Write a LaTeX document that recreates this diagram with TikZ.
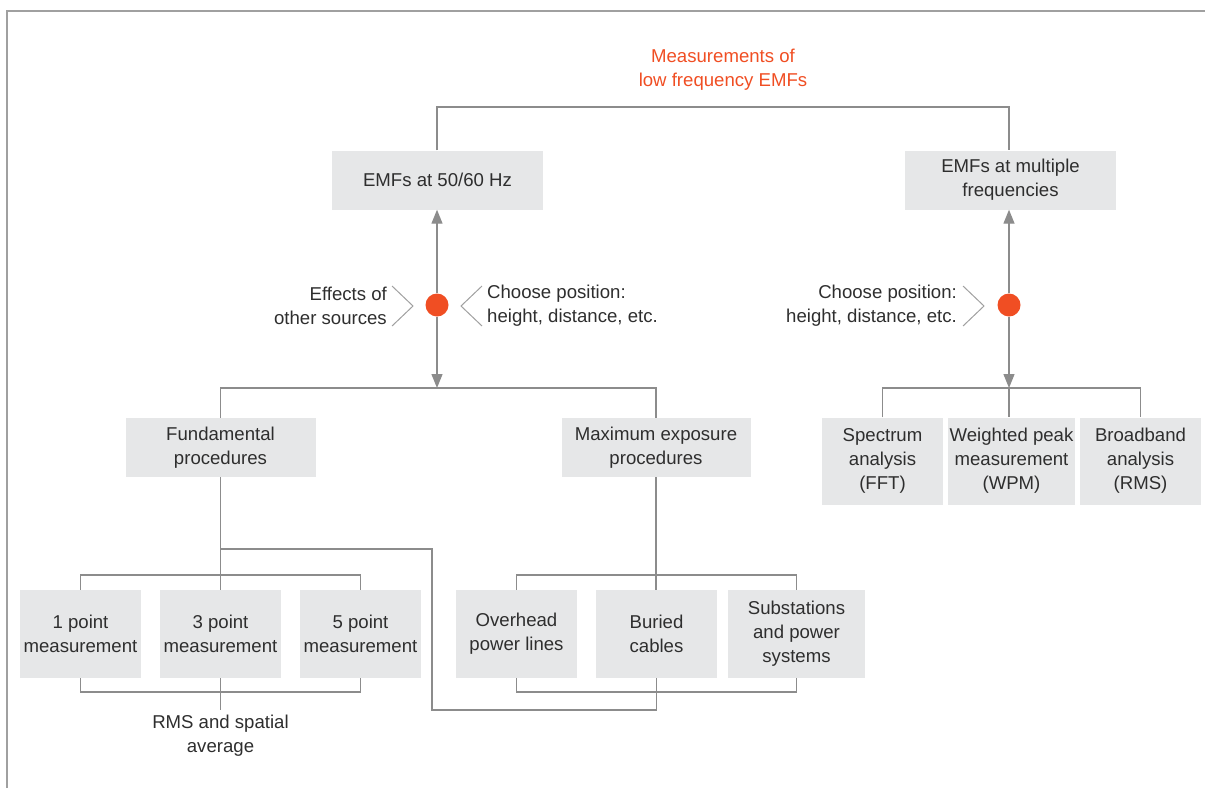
\documentclass[tikz,border=0pt]{standalone}
\usepackage{fontspec}
\setmainfont{Liberation Sans}
\usetikzlibrary{positioning,calc,arrows.meta}
\definecolor{boxgray}{HTML}{E6E7E8}
\definecolor{linegray}{HTML}{8C8C8C}
\definecolor{framegray}{HTML}{A0A0A0}
\definecolor{emforange}{HTML}{F04E23}
\definecolor{textgray}{HTML}{2E2E2E}
\begin{document}
\begin{tikzpicture}[x=1pt, y=-1pt,
every node/.style={font=\fontsize{18.6}{24}\selectfont, text=textgray, align=center},
box/.style={fill=boxgray, inner sep=0pt, minimum height=59pt},
wire/.style={draw=linegray, line width=1.3pt},
arr/.style={wire, -{Triangle[length=14pt, width=11pt]}},
chev/.style={draw=framegray, line width=1pt},
dot/.style={circle, fill=emforange, inner sep=0pt, minimum size=23pt}]

\useasboundingbox (0,0) rectangle (1205,788);
\draw[draw=framegray, line width=1.5pt] (7,788) -- (7,11) -- (1205,11);

\node[text=emforange] (title) at (723,70) {Measurements of\\low frequency EMFs};

\node[box, minimum width=211pt] (emf50) at (437.5,180) {EMFs at 50/60 Hz};
\node[box, minimum width=211pt] (emfmulti) at (1010.5,180) {EMFs at multiple\\frequencies};

\node[dot] (dot50) at (437,305) {};
\node[dot] (dotmulti) at (1009,305) {};
\node[anchor=east, align=right, inner sep=0pt] (effects) at (387,306) {Effects of\\other sources};
\node[anchor=west, align=left, inner sep=0pt] (choose50) at (487,306) {Choose position:\\height, distance, etc.};
\node[anchor=east, align=right, inner sep=0pt] (choosemulti) at (957,306) {Choose position:\\height, distance, etc.};

\node[box, minimum width=190pt] (fund) at (220.5,447.5) {Fundamental\\procedures};
\node[box, minimum width=189pt] (maxexp) at (656,447.5) {Maximum exposure\\procedures};

\node[box, minimum width=121pt, minimum height=87pt] (fft) at (882.5,461) {Spectrum\\analysis\\(FFT)};
\node[box, minimum width=127pt, minimum height=87pt] (wpm) at (1011.5,461) {Weighted peak\\measurement\\(WPM)};
\node[box, minimum width=121pt, minimum height=87pt] (rms) at (1140.5,461) {Broadband\\analysis\\(RMS)};

\node[box, minimum width=121pt, minimum height=88pt] (p1) at (80.5,634) {1 point\\measurement};
\node[box, minimum width=121pt, minimum height=88pt] (p3) at (220.5,634) {3 point\\measurement};
\node[box, minimum width=121pt, minimum height=88pt] (p5) at (360.5,634) {5 point\\measurement};
\node[anchor=north, inner sep=5pt] (rmsavg) at (220.5,710) {RMS and spatial\\average};

\node[box, minimum width=121pt, minimum height=88pt] (ovh) at (516.5,634) {Overhead\\power lines};
\node[box, minimum width=121pt, minimum height=88pt] (bur) at (656.5,634) {Buried\\cables};
\node[box, minimum width=137pt, minimum height=88pt] (sub) at (796.5,634) {Substations\\and power\\systems};

\coordinate (topbar) at (723,107);
\coordinate (fundbar) at (437,388);
\coordinate (multibar) at (1009,388);
\coordinate (pbar) at (220.5,575);
\coordinate (pbot) at (220.5,692);
\coordinate (obar) at (656.5,575);
\coordinate (obot) at (656.5,692);
\coordinate (fork) at (220.5,549);
\coordinate (loop) at (432,710);

\draw[wire] (dot50 |- emf50.north) |- (topbar) -| (dotmulti |- emfmulti.north);

\draw[arr] (dot50) -- (dot50 |- emf50.south);
\draw[arr] (dot50) -- (fundbar);
\draw[arr] (dotmulti) -- (dotmulti |- emfmulti.south);
\draw[arr] (dotmulti) -- (multibar);

\draw[chev] ($(dot50)+(-45,-19)$) -- ($(dot50)+(-24,1)$) -- ($(dot50)+(-45,21)$);
\draw[chev] ($(dot50)+(45,-19)$) -- ($(dot50)+(24,1)$) -- ($(dot50)+(45,21)$);
\draw[chev] ($(dotmulti)+(-46,-19)$) -- ($(dotmulti)+(-25,1)$) -- ($(dotmulti)+(-46,21)$);

\draw[wire] (fund.north) |- (fundbar) -| (maxexp.north);
\draw[wire] (fft.north) |- (multibar) -| (rms.north);
\draw[wire] (multibar) -- (multibar |- wpm.north);

\draw[wire] (fund.south) -- (p3.north);
\draw[wire] (p1.north) |- (pbar) -| (p5.north);
\draw[wire] (p1.south) |- (pbot) -| (p5.south);
\draw[wire] (p3.south) -- (rmsavg.north);

\draw[wire] (maxexp.south) -- (maxexp.south |- bur.north);
\draw[wire] (ovh.north) |- (obar) -| (sub.north);
\draw[wire] (ovh.south) |- (obot) -| (sub.south);
\draw[wire] (fork) -| (loop) -| (bur.south);

\end{tikzpicture}
\end{document}
